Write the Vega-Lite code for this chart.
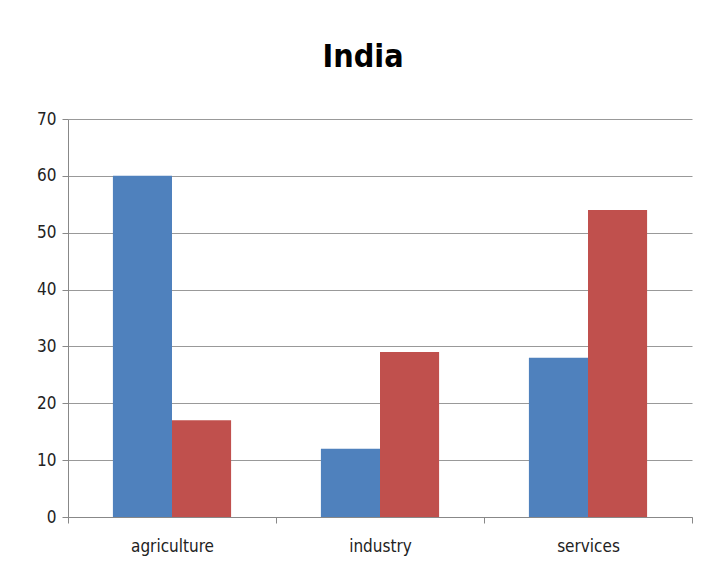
{
  "$schema": "https://vega.github.io/schema/vega-lite/v6.json",
  "autosize": "none",
  "width": 624,
  "height": 398,
  "padding": {"left": 68, "top": 119, "right": 24, "bottom": 63},
  "background": "white",
  "title": {
    "text": "India",
    "anchor": "middle",
    "font": "DejaVu Sans Condensed, Liberation Sans, sans-serif",
    "fontSize": 32,
    "fontWeight": "bold",
    "color": "black",
    "dx": -17,
    "offset": 36
  },
  "data": {
    "values": [
      {"sector": "agriculture", "series": "Series 1", "value": 60},
      {"sector": "agriculture", "series": "Series 2", "value": 17},
      {"sector": "industry", "series": "Series 1", "value": 12},
      {"sector": "industry", "series": "Series 2", "value": 29},
      {"sector": "services", "series": "Series 1", "value": 28},
      {"sector": "services", "series": "Series 2", "value": 54}
    ]
  },
  "mark": {"type": "bar"},
  "encoding": {
    "x": {
      "field": "sector",
      "type": "nominal",
      "sort": ["agriculture", "industry", "services"],
      "scale": {"paddingInner": 0, "paddingOuter": 0},
      "axis": {
        "title": null,
        "labelAngle": 0,
        "labelFont": "DejaVu Sans Condensed, Liberation Sans, sans-serif",
        "labelFontSize": 17,
        "labelColor": "#222",
        "labelPadding": 15,
        "tickBand": "extent",
        "tickSize": 6,
        "tickColor": "#888",
        "domainColor": "#888",
        "grid": false
      }
    },
    "xOffset": {
      "field": "series",
      "type": "nominal",
      "scale": {"paddingInner": 0, "paddingOuter": 0.76}
    },
    "y": {
      "field": "value",
      "type": "quantitative",
      "scale": {"domain": [0, 70]},
      "axis": {
        "title": null,
        "values": [0, 10, 20, 30, 40, 50, 60, 70],
        "labelFont": "DejaVu Sans Condensed, Liberation Sans, sans-serif",
        "labelFontSize": 17,
        "labelColor": "#222",
        "labelPadding": 6,
        "tickSize": 6,
        "tickColor": "#888",
        "domainColor": "#888",
        "gridColor": "#999",
        "grid": true
      }
    },
    "color": {
      "field": "series",
      "type": "nominal",
      "scale": {"range": ["#4F81BD", "#C0504D"]},
      "legend": null
    }
  },
  "config": {"view": {"stroke": null}}
}
